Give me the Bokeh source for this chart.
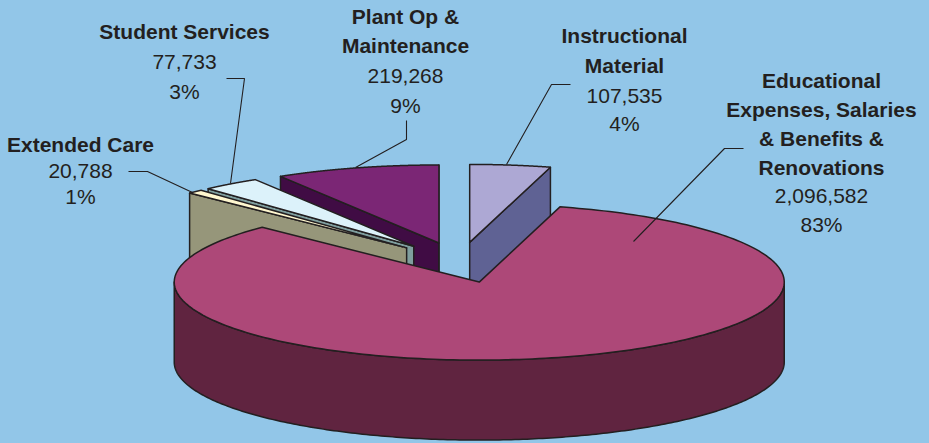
import math
from bokeh.plotting import figure
from bokeh.models import Range1d
from bokeh.core.properties import value
from bokeh.embed import file_html
from bokeh.resources import INLINE

# ---- data ----
categories = ["Instructional Material", "Educational Expenses, Salaries & Benefits & Renovations",
              "Extended Care", "Student Services", "Plant Op & Maintenance"]
values = [107535, 2096582, 20788, 77733, 219268]

top_colors = ["#ADA8D4", "#AD4878", "#FFF7CF", "#DCF2FA", "#7B2675"]
wall_colors = ["#5F6294", "#602440", "#96967A", "#7F9E9E", "#400C44"]
BG = "#92C6E8"
INK = "#231F20"

W, H = 929, 443
CX, CY = 459.0, 262.0   # unexploded pie centre
A, B = 305.0, 78.0      # ellipse radii
DEPTH = 80.0
EXPLODE_X, EXPLODE_Y = 0.25, 0.26

p = figure(width=W, height=H, output_backend="svg", toolbar_location=None,
           x_range=Range1d(0, W), y_range=Range1d(H, 0),
           min_border=0, outline_line_color=None,
           background_fill_color=BG, border_fill_color=BG)
p.axis.visible = False
p.grid.visible = False

# ---- slice angles (clockwise from 12 o'clock, in degrees of the ellipse parameter) ----
total = sum(values)
slices = []
a = 90.0
for v in values:
    sweep = v / total * 360.0
    mid = a - sweep / 2
    ax = CX + EXPLODE_X * A * math.cos(math.radians(mid))
    ay = CY - EXPLODE_Y * B * math.sin(math.radians(mid))
    slices.append(dict(start=a, end=a - sweep, ax=ax, ay=ay))
    a -= sweep


def pt(s, t):
    return s["ax"] + A * math.cos(math.radians(t)), s["ay"] - B * math.sin(math.radians(t))


def arc(s, t0, t1, n=240):
    return [pt(s, t0 + (t1 - t0) * i / n) for i in range(n + 1)]


def poly(points, color, lw=1.5):
    p.patch([q[0] for q in points], [q[1] for q in points], fill_color=color,
            line_color=INK, line_width=lw, line_join="round")


def cut_wall(s, t, color):
    x0, y0 = s["ax"], s["ay"]
    x1, y1 = pt(s, t)
    poly([(x0, y0), (x1, y1), (x1, y1 + DEPTH), (x0, y0 + DEPTH)], color)


def top(s, color):
    poly([(s["ax"], s["ay"])] + arc(s, s["start"], s["end"]), color)


instr, main, ext, stud, plant = slices

# Back to front: only the cut faces that look towards the viewer
cut_wall(plant, plant["start"], wall_colors[4])
cut_wall(plant, plant["end"], wall_colors[4])
top(plant, top_colors[4])
cut_wall(instr, instr["end"], wall_colors[0])
top(instr, top_colors[0])
cut_wall(stud, stud["start"], wall_colors[3])
top(stud, top_colors[3])
cut_wall(ext, ext["start"], wall_colors[2])
top(ext, top_colors[2])

# Main slice: outer rim (front half) then top face
rim_top = arc(main, 180, 360)
rim_bot = [(x, y + DEPTH) for x, y in rim_top]
poly(rim_top + rim_bot[::-1], wall_colors[1])
top(main, top_colors[1])

# ---- leader lines ----
leader_lines = [
    ([128, 147, 192], [171, 171, 192]),
    ([226, 244, 230], [78, 78, 183]),
    ([406, 406, 355], [120, 139, 167]),
    ([570, 551, 506], [84, 84, 164]),
    ([743, 724, 633], [148, 148, 241]),
]
for xs, ys in leader_lines:
    p.line(xs, ys, line_color=INK, line_width=1.1)

# ---- labels ----
bold_lines = [
    ["Extended Care"], ["Student Services"], ["Plant Op &", "Maintenance"],
    ["Instructional", "Material"],
    ["Educational", "Expenses, Salaries", "& Benefits &", "Renovations"],
]
plain_lines = [
    ["20,788", "1%"], ["77,733", "3%"], ["219,268", "9%"],
    ["107,535", "4%"], ["2,096,582", "83%"],
]
label_x = [80, 184, 405, 624, 821]
label_y = [[144, 170, 196], [31, 61, 91], [16, 45, 75, 105],
           [35, 65, 95, 123], [80, 109, 138, 167, 195, 224]]
for bold, plain, x, ys in zip(bold_lines, plain_lines, label_x, label_y):
    for i, line in enumerate(bold + plain):
        p.text([x], [ys[i]], text=[line], text_align="center", text_baseline="middle",
               text_color=INK, text_font=value("Liberation Sans"), text_font_size="21px",
               text_font_style="bold" if i < len(bold) else "normal")

html = file_html(p, INLINE)
html = html.replace("<head>", f"<head><style>html,body{{margin:0;padding:0;background:{BG};overflow:hidden}}</style>", 1)
open("out.html", "w").write(html)
